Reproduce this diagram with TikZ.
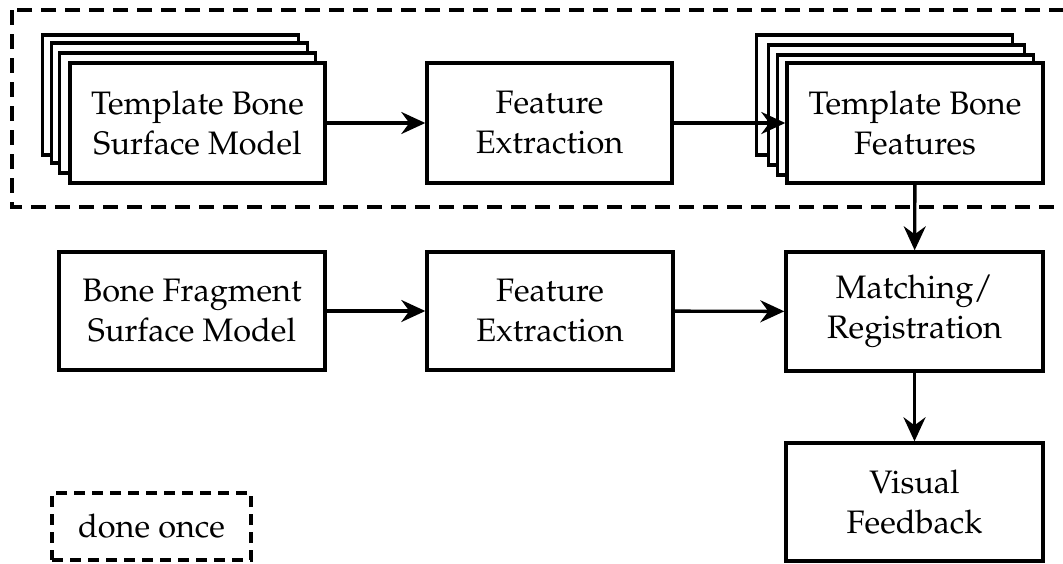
\documentclass[tikz,border=0pt]{standalone}
\usepackage[T1]{fontenc}
\usepackage{mathpazo}
\usepackage{tikz}
\usetikzlibrary{arrows.meta,positioning}

\begin{document}
\begin{tikzpicture}[
  x=1pt, y=-1pt,
  >={Stealth[length=24pt, width=22pt, inset=8pt]},
  blk/.style={draw, line width=3.4pt, fill=white,
              minimum width=256pt, minimum height=120pt,
              align=center, inner sep=0pt,
              font=\fontsize{32.5}{40}\selectfont},
  arr/.style={->, line width=3.4pt},
  once/.style={draw, line width=3.4pt, dash pattern=on 15pt off 9pt},
]
\useasboundingbox (0,0) rectangle (1063,563);

% ---- done-once region ----
\draw[once] (12,10) rectangle (1085,207);

% ---- template surface model stack ----
\node[blk] (TS3) at (170.5,95) {};
\node[blk] (TS2) at (179.5,103) {};
\node[blk] (TS1) at (187.5,113) {};
\node[blk, minimum width=255pt] (TS) at (197.5,123) {Template Bone\\Surface Model};

% ---- feature extraction (template) ----
\node[blk, minimum width=245pt] (FE1) at (549.5,123) {Feature\\Extraction};

% ---- template features stack ----
\node[blk] (TF3) at (884.5,95) {};
\node[blk] (TF2) at (896.5,105) {};
\node[blk] (TF1) at (905.5,115) {};
\node[blk] (TF) at (915,123) {Template Bone\\Features};

% ---- fragment branch ----
\node[blk, minimum width=266pt, minimum height=118pt] (BF) at (192,311) {Bone Fragment\\Surface Model};
\node[blk, minimum width=246pt, minimum height=118pt] (FE2) at (550,311) {Feature\\Extraction};
\node[blk, minimum width=257pt, minimum height=119pt] (MR) at (914.5,311.5) {Matching/\\Registration};
\node[blk, minimum width=257pt, minimum height=118pt] (VF) at (914.5,502) {Visual\\Feedback};

% ---- legend ----
\node[draw, line width=3.4pt, dash pattern=on 11pt off 7pt,
      minimum width=199pt, minimum height=67pt,
      font=\fontsize{32.5}{40}\selectfont] (DO) at (151.5,526.5) {done once};

% ---- arrows ----
\draw[arr] (TS) -- (FE1);
\draw[arr] (FE1) -- (TF);
\draw[arr] (TF) -- (MR);
\draw[arr] (BF) -- (FE2);
\draw[arr] (FE2) -- (MR);
\draw[arr] (MR) -- (VF);

\end{tikzpicture}
\end{document}
